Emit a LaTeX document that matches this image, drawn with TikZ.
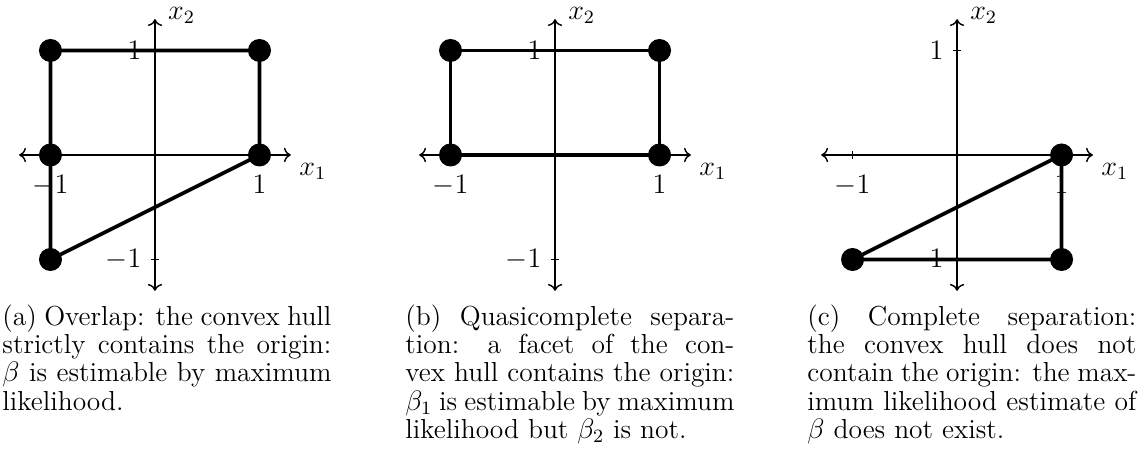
\documentclass[tikz,border=0pt]{standalone}
\usepackage{tikz}
\usetikzlibrary{arrows.meta}
\tikzset{
  axis/.style={line width=0.6pt, <->},
  tickmark/.style={line width=0.6pt},
  hull/.style={line width=1.6pt, line join=round},
  vertex/.style={circle, fill=black, inner sep=0pt, minimum size=9.8pt},
  tlab/.style={font=\large},
  capt/.style={text width=140pt, align=justify, inner sep=0pt, anchor=north west,
    font=\fontsize{11.7}{12}\selectfont}
}
\begin{document}
\begin{tikzpicture}[x=1.563cm,y=1.563cm]
\useasboundingbox (-1.483,1.483) rectangle (9.502,-2.976);
\begin{scope}
\coordinate (aW) at (-1.3,0);
\coordinate (aE) at (1.3,0);
\coordinate (aS) at (0,-1.3);
\coordinate (aN) at (0,1.3);
\draw[axis] (aW) -- (aE) node[tlab, anchor=north west] (ax1) {$x_1$};
\draw[axis] (aS) -- (aN) node[tlab, anchor=base west, xshift=2pt] (ax2) {$x_2$};
\draw[tickmark] (-1,-0.04) -- (-1,0.04);
\draw[tickmark] (1,-0.04) -- (1,0.04);
\draw[tickmark] (-0.04,1) -- (0.04,1);
\draw[tickmark] (-0.04,-1) -- (0.04,-1);
\node[tlab, anchor=north] (axm) at (-1,-0.115) {$-1$};
\node[tlab, anchor=north] (axp) at (1,-0.115) {$1$};
\node[tlab, anchor=east] (aym) at (-0.05,-1) {$-1$};
\node[tlab, anchor=east] (ayp) at (-0.05,1) {$1$};
\node[vertex] (a1) at (-1,1) {};
\node[vertex] (a2) at (1,1) {};
\node[vertex] (a3) at (-1,0) {};
\node[vertex] (a4) at (1,0) {};
\node[vertex] (a5) at (-1,-1) {};
\draw[hull] (a1.center) -- (a2.center) -- (a4.center) -- (a5.center) -- cycle;
\end{scope}
\begin{scope}[shift={(3.828,0)}]
\coordinate (bW) at (-1.3,0);
\coordinate (bE) at (1.3,0);
\coordinate (bS) at (0,-1.3);
\coordinate (bN) at (0,1.3);
\draw[axis] (bW) -- (bE) node[tlab, anchor=north west] (bx1) {$x_1$};
\draw[axis] (bS) -- (bN) node[tlab, anchor=base west, xshift=2pt] (bx2) {$x_2$};
\draw[tickmark] (-1,-0.04) -- (-1,0.04);
\draw[tickmark] (1,-0.04) -- (1,0.04);
\draw[tickmark] (-0.04,1) -- (0.04,1);
\draw[tickmark] (-0.04,-1) -- (0.04,-1);
\node[tlab, anchor=north] (bxm) at (-1,-0.115) {$-1$};
\node[tlab, anchor=north] (bxp) at (1,-0.115) {$1$};
\node[tlab, anchor=east] (bym) at (-0.05,-1) {$-1$};
\node[tlab, anchor=east] (byp) at (-0.05,1) {$1$};
\node[vertex] (b1) at (-1,1) {};
\node[vertex] (b2) at (1,1) {};
\node[vertex] (b3) at (1,0) {};
\node[vertex] (b4) at (-1,0) {};
\draw[hull] (b1.center) -- (b2.center) -- (b3.center) -- (b4.center) -- cycle;
\end{scope}
\begin{scope}[shift={(7.675,0)}]
\coordinate (cW) at (-1.3,0);
\coordinate (cE) at (1.3,0);
\coordinate (cS) at (0,-1.3);
\coordinate (cN) at (0,1.3);
\draw[axis] (cW) -- (cE) node[tlab, anchor=north west] (cx1) {$x_1$};
\draw[axis] (cS) -- (cN) node[tlab, anchor=base west, xshift=2pt] (cx2) {$x_2$};
\draw[tickmark] (-1,-0.04) -- (-1,0.04);
\draw[tickmark] (1,-0.04) -- (1,0.04);
\draw[tickmark] (-0.04,1) -- (0.04,1);
\draw[tickmark] (-0.04,-1) -- (0.04,-1);
\node[tlab, anchor=north] (cxm) at (-1,-0.115) {$-1$};
\node[tlab, anchor=north] (cxp) at (1,-0.115) {$1$};
\node[tlab, anchor=east] (cym) at (-0.05,-1) {$-1$};
\node[tlab, anchor=east] (cyp) at (-0.05,1) {$1$};
\node[vertex] (c1) at (1,0) {};
\node[vertex] (c2) at (1,-1) {};
\node[vertex] (c3) at (-1,-1) {};
\draw[hull] (c1.center) -- (c2.center) -- (c3.center) -- cycle;
\end{scope}
\node[capt] (capa) at (-1.464,-1.43) {(a) Overlap: the convex hull strictly contains the origin: $\beta$ is estimable by maximum likelihood.};
\node[capt] (capb) at (2.392,-1.43) {(b) Quasicomplete separation: a facet of the convex hull contains the origin: $\beta_1$ is estimable by maximum likelihood but $\beta_2$ is not.};
\node[capt] (capc) at (6.239,-1.43) {(c) Complete separation: the convex hull does not contain the origin: the maximum likelihood estimate of $\beta$ does not exist.};
\end{tikzpicture}
\end{document}
